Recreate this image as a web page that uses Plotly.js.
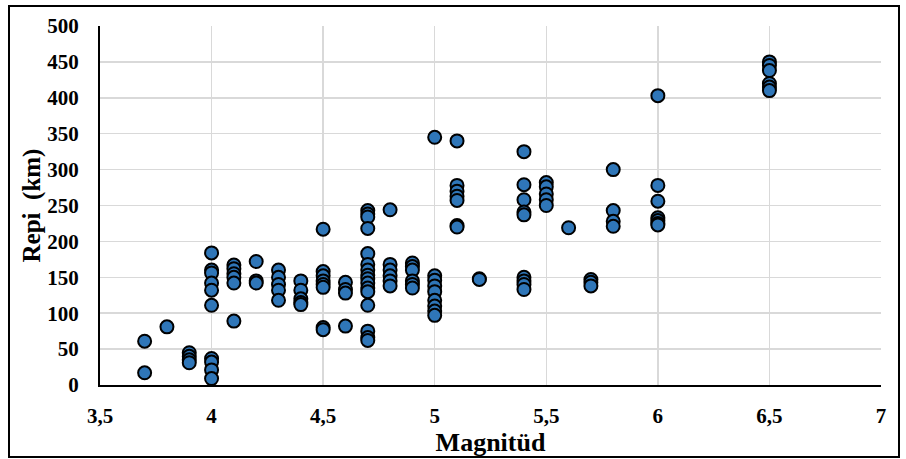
<!DOCTYPE html>
<html>
<head>
<meta charset="utf-8">
<script src="https://cdn.plot.ly/plotly-3.0.1.min.js"></script>
<style>
  html, body { margin: 0; padding: 0; background: #fff; }
  #wrap { position: relative; width: 906px; height: 459px; }
  #chart { position: absolute; left: 0; top: 0; width: 906px; height: 459px; }
  #frame { position: absolute; left: 8px; top: 5px; width: 888px; height: 449px;
           border: 2px solid #000; pointer-events: none; }
</style>
</head>
<body>
<div id="wrap">
  <div id="chart"></div>
  <div id="frame"></div>
</div>
<script>
// Magnitude (x) and epicentral distance Repi in km (y)
const mag = [
  3.7, 3.7,
  3.8,
  3.9, 3.9, 3.9, 3.9,
  4.0, 4.0, 4.0, 4.0, 4.0, 4.0, 4.0, 4.0, 4.0, 4.0,
  4.1, 4.1, 4.1, 4.1, 4.1, 4.1,
  4.2, 4.2, 4.2,
  4.3, 4.3, 4.3, 4.3, 4.3,
  4.4, 4.4, 4.4, 4.4, 4.4,
  4.5, 4.5, 4.5, 4.5, 4.5, 4.5, 4.5, 4.5,
  4.6, 4.6, 4.6, 4.6,
  4.7, 4.7, 4.7, 4.7, 4.7, 4.7, 4.7, 4.7, 4.7, 4.7, 4.7, 4.7, 4.7, 4.7, 4.7, 4.7,
  4.8, 4.8, 4.8, 4.8, 4.8, 4.8,
  4.9, 4.9, 4.9, 4.9, 4.9, 4.9,
  5.0, 5.0, 5.0, 5.0, 5.0, 5.0, 5.0, 5.0, 5.0,
  5.1, 5.1, 5.1, 5.1, 5.1, 5.1, 5.1,
  5.2, 5.2,
  5.4, 5.4, 5.4, 5.4, 5.4, 5.4, 5.4, 5.4, 5.4,
  5.5, 5.5, 5.5, 5.5, 5.5,
  5.6,
  5.7, 5.7, 5.7,
  5.8, 5.8, 5.8, 5.8,
  6.0, 6.0, 6.0, 6.0, 6.0, 6.0, 6.0,
  6.5, 6.5, 6.5, 6.5, 6.5, 6.5
];
const repi = [
  61, 17,
  81,
  45, 40, 35, 31,
  184, 160, 156, 142, 132, 111, 37, 32, 21, 9,
  167, 162, 155, 150, 142, 89,
  172, 145, 142,
  160, 150, 140, 132, 118,
  145, 132, 120, 115, 112,
  217, 158, 152, 145, 140, 136, 80, 77,
  143, 133, 128, 82,
  243, 238, 234, 218, 183, 168, 160, 153, 148, 142, 135, 130, 111, 75, 66, 62,
  244, 168, 160, 152, 145, 138,
  170, 165, 160, 145, 140, 135,
  345, 152, 146, 138, 130, 118, 110, 103, 97,
  340, 278, 270, 263, 257, 222, 220,
  148, 147,
  325, 279, 258, 241, 237, 150, 145, 140, 133,
  282, 276, 266, 258, 250,
  219,
  147, 143, 138,
  300, 243, 228, 221,
  403, 278, 256, 233, 229, 225, 223,
  450, 445, 438, 420, 415, 410
];
const xTitle = 'Magnitüd';
const yTitle = 'Repi  (km)';

const font = 'Liberation Serif, Times New Roman, serif';

const trace = {
  type: 'scatter',
  mode: 'markers',
  x: mag,
  y: repi,
  marker: {
    size: 13,
    color: '#2f76b8',
    line: { color: '#000000', width: 2 }
  },
  hoverinfo: 'x+y'
};

const layout = {
  width: 906,
  height: 459,
  separators: ', ',
  paper_bgcolor: '#ffffff',
  plot_bgcolor: '#ffffff',
  showlegend: false,
  margin: { l: 100, r: 25, t: 26, b: 74 },
  font: { family: font, size: 22, color: '#000' },
  xaxis: {
    range: [3.5, 7],
    dtick: 0.5,
    tick0: 3.5,
    showgrid: true,
    gridcolor: '#d9d9d9',
    gridwidth: 1.5,
    zeroline: false,
    showline: true,
    linecolor: '#000',
    linewidth: 2,
    ticks: '',
    ticklabelstandoff: 11,
    tickfont: { family: font, size: 21, color: '#000', weight: 'bold' },
    title: { text: '<b>' + xTitle + '</b>', font: { family: font, size: 26, color: '#000' }, standoff: 0 }
  },
  yaxis: {
    range: [0, 500],
    dtick: 50,
    showgrid: true,
    gridcolor: '#d9d9d9',
    gridwidth: 1.5,
    zeroline: false,
    showline: true,
    linecolor: '#000',
    linewidth: 2,
    ticks: '',
    ticklabelstandoff: 15,
    tickfont: { family: font, size: 21, color: '#000', weight: 'bold' },
    title: { text: '<b>' + yTitle + '</b>', font: { family: font, size: 25, color: '#000' }, standoff: 0 }
  }
};

Plotly.newPlot('chart', [trace], layout, { displayModeBar: false, staticPlot: true });
</script>
</body>
</html>
